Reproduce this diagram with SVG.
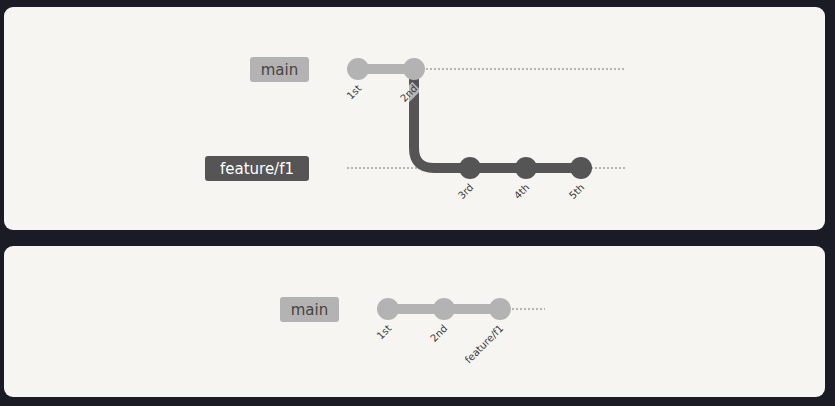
<svg xmlns="http://www.w3.org/2000/svg" width="835" height="406" viewBox="0 0 835 406">
<style>
.panel{fill:#f6f5f1}
.lbl{font-family:"DejaVu Sans",Verdana,sans-serif;font-size:15px;text-anchor:middle}
.clbl{font-family:"DejaVu Sans",Verdana,sans-serif;font-size:10px;fill:#3a3a3a;text-anchor:end}
.dash{stroke:#777;stroke-width:1;stroke-dasharray:2,2;fill:none}
.light{fill:#b3b3b3}
.dark{fill:#555}
</style>
<rect width="835" height="406" fill="#1a1b24"/>
<rect class="panel" x="4" y="7" width="821" height="223" rx="9"/>
<rect class="panel" x="4" y="246" width="821" height="151" rx="9"/>
<g id="connectors">
<line class="dash" x1="414" y1="69" x2="625" y2="69"/>
<line class="dash" x1="347" y1="168" x2="625" y2="168"/>
<line class="dash" x1="500" y1="309" x2="545" y2="309"/>
<line x1="358" y1="69" x2="414" y2="69" stroke="#b3b3b3" stroke-width="10"/>
<path d="M414,78 V148 Q414,168 434,168 H581" stroke="#555" stroke-width="10" fill="none"/>
<line x1="388" y1="309" x2="500" y2="309" stroke="#b3b3b3" stroke-width="10"/>
</g>
<g id="label-main-1"><rect x="250" y="57" width="59" height="25" rx="3" fill="#b3b3b3"/><text class="lbl" x="279.5" y="75" fill="#444">main</text></g>
<g id="label-feature"><rect x="205" y="156" width="104" height="25" rx="3" fill="#555"/><text class="lbl" x="257" y="174" fill="#fff">feature/f1</text></g>
<g id="c1st"><circle class="light" cx="358" cy="69" r="11"/><text class="clbl" transform="translate(362,89) rotate(-45)">1st</text></g>
<g id="c2nd"><circle class="light" cx="414" cy="69" r="11"/><g transform="translate(418,89) rotate(-45)"><rect x="-21" y="-9" width="22" height="12" fill="#f6f5f1" opacity="0.6"/><text class="clbl">2nd</text></g></g>
<g id="c3rd"><circle class="dark" cx="470" cy="168" r="11"/><text class="clbl" transform="translate(474,188) rotate(-45)">3rd</text></g>
<g id="c4th"><circle class="dark" cx="526" cy="168" r="11"/><text class="clbl" transform="translate(530,188) rotate(-45)">4th</text></g>
<g id="c5th"><circle class="dark" cx="581" cy="168" r="11"/><text class="clbl" transform="translate(585,188) rotate(-45)">5th</text></g>
<g id="label-main-2"><rect x="280" y="297" width="59" height="25" rx="3" fill="#b3b3b3"/><text class="lbl" x="309.5" y="315" fill="#444">main</text></g>
<g id="m1st"><circle class="light" cx="388" cy="309" r="11"/><text class="clbl" transform="translate(392,329) rotate(-45)">1st</text></g>
<g id="m2nd"><circle class="light" cx="444" cy="309" r="11"/><text class="clbl" transform="translate(448,329) rotate(-45)">2nd</text></g>
<g id="m3rd"><circle class="light" cx="500" cy="309" r="11"/><text class="clbl" transform="translate(504,329) rotate(-45)">feature/f1</text></g>
</svg>
